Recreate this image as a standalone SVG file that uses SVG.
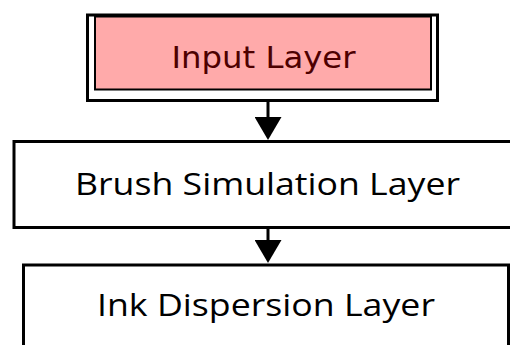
<svg xmlns="http://www.w3.org/2000/svg" width="510" height="345" viewBox="0 0 510 345">
<defs>
<style>
.frame{fill:#ffffff;stroke:#000000;stroke-width:3}
.box{fill:#ffffff;stroke:#000000;stroke-width:3}
.pink{fill:#ffaaaa;stroke:#000000;stroke-width:2}
.lbl{font-family:"Open Sans","Liberation Sans",sans-serif;font-size:31px;fill:#000000;text-anchor:middle}
.lbl-in{font-family:"DejaVu Sans","Liberation Sans",sans-serif;font-size:31px;fill:#4d0000;text-anchor:middle}
.conn{stroke:#000000;stroke-width:3;fill:none}
</style>
<marker id="arrow" markerUnits="userSpaceOnUse" markerWidth="23" markerHeight="27" refX="13" refY="13.5" orient="auto">
<path d="M0,0 L23,13.5 L0,27 z" fill="#000000"/>
</marker>
</defs>
<rect width="510" height="345" fill="#ffffff"/>
<g id="input-layer">
<rect class="frame" x="87.5" y="15" width="350" height="85.5"/>
<rect class="pink" x="95" y="16.5" width="336" height="73"/>
<text class="lbl-in" x="263.5" y="68" textLength="184" lengthAdjust="spacingAndGlyphs">Input Layer</text>
</g>
<g id="brush-simulation-layer">
<rect class="box" x="14" y="141.5" width="500" height="86"/>
<text class="lbl" x="267.5" y="195" textLength="385" lengthAdjust="spacingAndGlyphs">Brush Simulation Layer</text>
</g>
<g id="ink-dispersion-layer">
<rect class="box" x="23.5" y="265" width="485" height="90"/>
<text class="lbl" x="266" y="316" textLength="338" lengthAdjust="spacingAndGlyphs">Ink Dispersion Layer</text>
</g>
<g id="connectors">
<line class="conn" x1="268" y1="100.5" x2="268" y2="130" marker-end="url(#arrow)"/>
<line class="conn" x1="268" y1="228" x2="268" y2="253" marker-end="url(#arrow)"/>
</g>
</svg>
